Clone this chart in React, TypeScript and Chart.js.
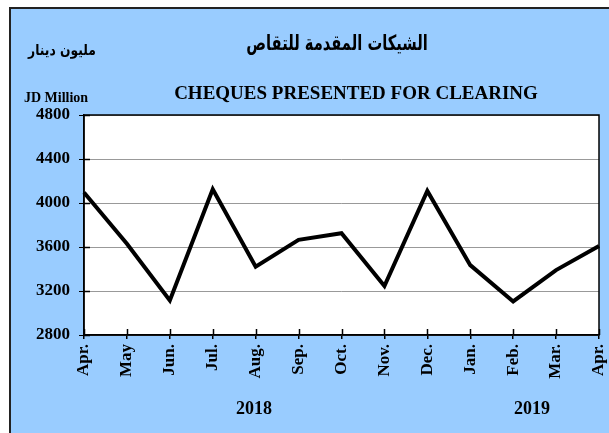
import React, { useEffect, useRef } from "react";
import { Chart, registerables } from "chart.js";

Chart.register(...registerables);

const months = ["Apr.", "May", "Jun.", "Jul.", "Aug.", "Sep.", "Oct.", "Nov.", "Dec.", "Jan.", "Feb.", "Mar.", "Apr."];
const cheques = [4095, 3630, 3115, 4125, 3420, 3665, 3725, 3245, 4110, 3435, 3105, 3390, 3610];
const yMin = 2800;
const yMax = 4800;
const yStep = 400;
const titleAr = "الشيكات المقدمة للتقاص";
const titleEn = "CHEQUES PRESENTED FOR CLEARING";
const unitAr = "مليون دينار";
const unitEn = "JD Million";
const years = ["2018", "2019"];

const SERIF = "'Liberation Serif', 'Times New Roman', serif";
const ARABIC = "'DejaVu Sans', sans-serif";

const framePlugin = {
  id: "frame",
  beforeDraw(chart: any) {
    const { ctx, chartArea: a } = chart;
    ctx.save();
    ctx.fillStyle = "#ffffff";
    ctx.fillRect(a.left, a.top, a.right - a.left, a.bottom - a.top);
    ctx.restore();
  },
  afterDraw(chart: any) {
    const { ctx, chartArea: a, scales } = chart;
    ctx.save();
    ctx.strokeStyle = "#000";
    ctx.lineWidth = 1.5;
    ctx.strokeRect(a.left, a.top, a.right - a.left, a.bottom - a.top);
    ctx.beginPath();
    scales.x.ticks.forEach((_: any, i: number) => {
      const x = Math.round(scales.x.getPixelForTick(i)) + 0.5;
      ctx.moveTo(x, a.bottom);
      ctx.lineTo(x, a.bottom - 6);
    });
    scales.y.ticks.forEach((_: any, i: number) => {
      const y = Math.round(scales.y.getPixelForTick(i)) + 0.5;
      ctx.moveTo(a.left, y);
      ctx.lineTo(a.left + 6, y);
    });
    ctx.stroke();
    ctx.restore();
  },
};

function Label(props: { x: number; y: number; size: number; family: string; text: string; rtl?: boolean; sx?: number }) {
  return (
    <div
      dir={props.rtl ? "rtl" : "ltr"}
      style={{
        position: "absolute",
        left: props.x,
        top: props.y,
        transform: `translate(-50%, -50%) scaleX(${props.sx ?? 1})`,
        fontFamily: props.family,
        fontWeight: "bold",
        fontSize: props.size,
        lineHeight: 1,
        whiteSpace: "nowrap",
        color: "#000",
      }}
    >
      {props.text}
    </div>
  );
}

export default function App() {
  const ref = useRef<HTMLCanvasElement | null>(null);

  useEffect(() => {
    if (!ref.current) return;
    const chart = new Chart(ref.current, {
      type: "line",
      data: {
        labels: months,
        datasets: [
          {
            data: cheques,
            borderColor: "#000",
            borderWidth: 4,
            pointRadius: 0,
            tension: 0,
            fill: false,
          },
        ],
      },
      options: {
        animation: false,
        responsive: false,
        devicePixelRatio: 1,
        layout: { padding: { top: 115, right: 10, left: 0, bottom: 0 } },
        plugins: { legend: { display: false }, tooltip: { enabled: false }, title: { display: false } },
        scales: {
          x: {
            offset: false,
            afterFit: (s: any) => {
              s.height = 98;
              s.paddingLeft = 0;
              s.paddingRight = 0;
            },
            grid: { drawOnChartArea: false, drawTicks: true, tickLength: 4, tickColor: "#000", lineWidth: 1.5 },
            border: { display: true, color: "#000", width: 1.5 },
            ticks: {
              autoSkip: false,
              minRotation: 90,
              maxRotation: 90,
              padding: 5,
              color: "#000",
              font: { family: SERIF, size: 17, weight: "bold" },
            },
          },
          y: {
            min: yMin,
            max: yMax,
            afterFit: (s: any) => {
              s.width = 84;
              s.paddingTop = 0;
              s.paddingBottom = 0;
            },
            grid: { color: "#999", lineWidth: 1, tickColor: "#000", tickLength: 5, drawTicks: true },
            border: { display: true, color: "#000", width: 1.5 },
            ticks: {
              stepSize: yStep,
              padding: 9,
              color: "#000",
              font: { family: SERIF, size: 17, weight: "bold" },
              callback: (v: any) => String(v),
            },
          },
        },
      },
      plugins: [framePlugin],
    } as any);
    return () => chart.destroy();
  }, []);

  return (
    <div style={{ position: "fixed", left: 0, top: 0, width: 609, height: 433, background: "#fff", overflow: "hidden" }}>
      <div
        style={{
          position: "absolute",
          left: 9,
          top: 7,
          width: 640,
          height: 460,
          background: "#99ccff",
          borderLeft: "2px solid #222",
          borderTop: "2px solid #222",
        }}
      />
      <canvas ref={ref} width={609} height={433} style={{ position: "absolute", left: 0, top: 0, width: 609, height: 433 }} />
      <Label x={337} y={43} size={21} family={ARABIC} text={titleAr} rtl sx={0.7} />
      <Label x={62} y={50} size={15} family={ARABIC} text={unitAr} rtl sx={0.82} />
      <Label x={356} y={92} size={19} family={SERIF} text={titleEn} />
      <Label x={56} y={98} size={14} family={SERIF} text={unitEn} />
      <Label x={254} y={408} size={18} family={SERIF} text={years[0]} />
      <Label x={532} y={408} size={18} family={SERIF} text={years[1]} />
    </div>
  );
}
